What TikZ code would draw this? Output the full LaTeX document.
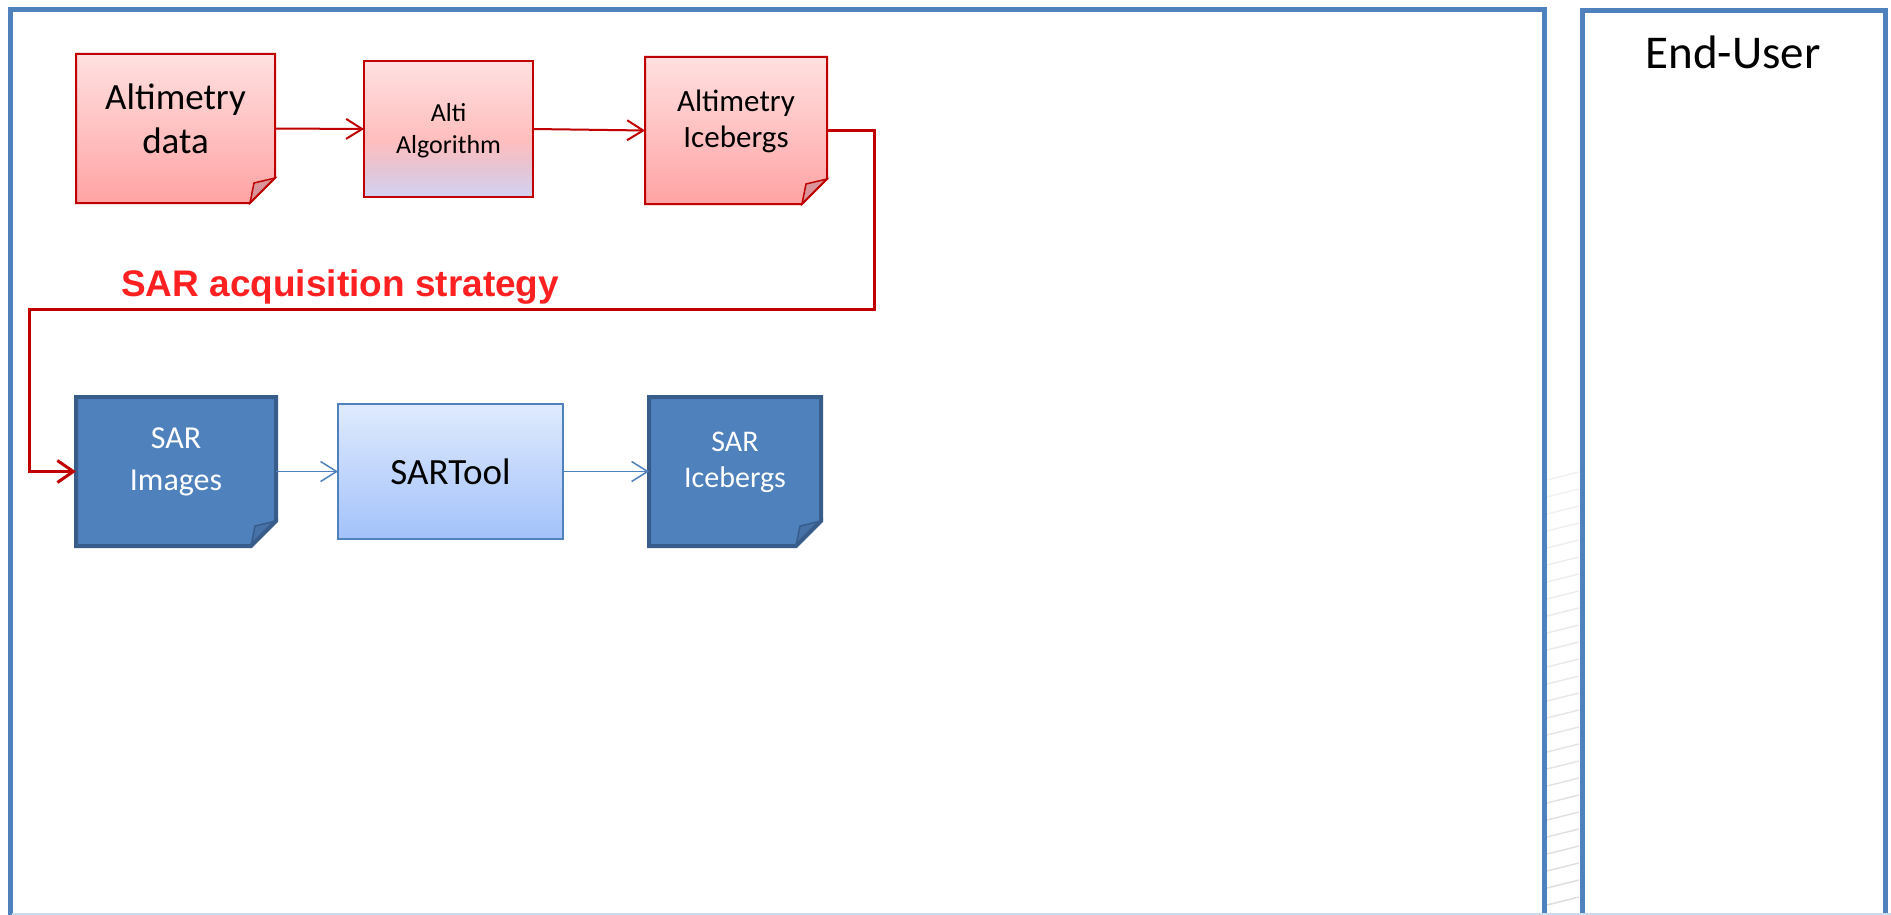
\documentclass[tikz,border=0pt]{standalone}
\usepackage{fontspec}
\setmainfont{Carlito}
\newfontfamily\labelfont{Liberation Sans}
\usetikzlibrary{arrows.meta,calc,backgrounds}

\definecolor{panelblue}{HTML}{4F81BD}
\definecolor{darkred}{HTML}{C00000}
\definecolor{labelred}{HTML}{FF2121}
\definecolor{pinktop}{HTML}{FFE0E0}
\definecolor{pinkbot}{HTML}{FFA3A4}
\definecolor{pinkmid}{HTML}{FFBEBE}
\definecolor{pinkfold}{HTML}{D9959A}
\definecolor{mauve}{HTML}{E6C4D3}
\definecolor{lavender}{HTML}{D2D3F2}
\definecolor{sarblue}{HTML}{4F81BD}
\definecolor{sarborder}{HTML}{385D8A}
\definecolor{sarfold}{HTML}{4672A8}
\definecolor{tooltop}{HTML}{DFEAFD}
\definecolor{toolbot}{HTML}{A3C2FA}
\definecolor{edgeline}{HTML}{CADCF0}

% algorithm box: pink on top fading to lavender at the bottom
\pgfdeclareverticalshading{algoshade}{100bp}{color(0bp)=(lavender); color(25bp)=(lavender); color(36bp)=(mauve); color(46bp)=(pinkmid); color(75bp)=(pinktop); color(100bp)=(pinktop)}

% page with a folded bottom-right corner, drawn behind the node #1
\newcommand{\foldedpage}[4]{%
  \shade[#2] (#1.north west) -- (#1.north east) -- ($(#1.south east)+(0,-25)$)
    -- ($(#1.south east)+(-25,0)$) -- (#1.south west) -- cycle;
  \filldraw[#3, fill=#4, line width=1.5pt] ($(#1.south east)+(0,-25)$)
    -- ($(#1.south east)+(-25,0)$) -- ($(#1.south east)+(-21,-20)$) -- cycle;
  \draw[#3] (#1.north west) -- (#1.north east) -- ($(#1.south east)+(0,-25)$)
    -- ($(#1.south east)+(-25,0)$) -- (#1.south west) -- cycle;
}

\tikzset{
  panel/.style={draw=panelblue, line width=5pt, inner sep=0, outer sep=0, anchor=north west},
  shapebox/.style={inner sep=0, outer sep=0},
  boxtext/.style={align=center, inner sep=0},
  redarrow/.style={draw=darkred, line width=2pt, -{Straight Barb[length=16pt,width=20pt]}},
  bluearrow/.style={draw=panelblue, line width=1.5pt, -{Straight Barb[length=16pt,width=20pt]}},
  route/.style={draw=darkred, line width=3pt, line join=miter, -{Straight Barb[length=16pt,width=22pt]}},
}

\begin{document}
\begin{tikzpicture}[x=1pt,y=-1pt]
\useasboundingbox (0,0) rectangle (1891,915);

\begin{scope}
\clip (0,0) rectangle (1891,915);

% faint strokes showing through the gap between the panels
\foreach \i in {0,...,25} {
  \pgfmathsetmacro{\yy}{480+17*\i}
  \pgfmathsetmacro{\gg}{5+0.35*\i}
  \draw[black!\gg, line width=1.4pt] (1547,\yy) -- (1579,\yy-8);
}

% the two swim-lane panels
\node[panel, minimum width=1534, minimum height=930] (procpanel) at (10,10) {};
\node[panel, minimum width=303, minimum height=930] (userpanel) at (1582,11) {};
\node[font=\fontsize{47}{56}\selectfont, inner sep=0] (usertitle) at (1733,52) {End-User};
\draw[edgeline, line width=1.5pt] (12,914) -- (1891,914);

% altimetry row
\node[shapebox, minimum width=199, minimum height=149] (altdata) at (175.5,128.5) {};
\node[shapebox, minimum width=169, minimum height=136] (altalgo) at (448.5,129) {};
\node[shapebox, minimum width=182, minimum height=147] (altice) at (736,130.5) {};

% SAR row
\node[shapebox, minimum width=200, minimum height=149] (sarimg) at (176,471.5) {};
\node[shapebox, minimum width=225, minimum height=135] (sartool) at (450.5,471.5) {};
\node[shapebox, minimum width=172, minimum height=149] (sarice) at (735,471.5) {};

\begin{scope}[on background layer]
  \fill[white] (0,0) rectangle (1891,915);
  \foldedpage{altdata}{top color=pinktop, bottom color=pinkbot}{draw=darkred, line width=2pt}{pinkfold}
  \shade[shading=algoshade] (altalgo.north west) rectangle (altalgo.south east);
  \draw[darkred, line width=2pt] (altalgo.north west) rectangle (altalgo.south east);
  \foldedpage{altice}{top color=pinktop, bottom color=pinkbot}{draw=darkred, line width=2pt}{pinkfold}

  \foldedpage{sarimg}{top color=sarblue, bottom color=sarblue}{draw=sarborder, line width=4pt}{sarfold}
  \shade[top color=tooltop, bottom color=toolbot] (sartool.north west) rectangle (sartool.south east);
  \draw[panelblue, line width=2pt] (sartool.north west) rectangle (sartool.south east);
  \foldedpage{sarice}{top color=sarblue, bottom color=sarblue}{draw=sarborder, line width=4pt}{sarfold}
\end{scope}

% box captions
\node[boxtext, font=\fontsize{37}{44}\selectfont] (altdatatxt) at (175.5,119) {Altimetry\\data};
\node[boxtext, font=\fontsize{26}{32}\selectfont] (altalgotxt) at (448.5,131) {Alti\\Algorithm};
\node[boxtext, font=\fontsize{31}{36}\selectfont] (alticetxt) at (736,121) {Altimetry\\Icebergs};
\node[boxtext, font=\fontsize{32}{42}\selectfont, text=white] (sarimgtxt) at (176,462) {SAR\\Images};
\node[boxtext, font=\fontsize{37}{44}\selectfont] (sartooltxt) at (450.5,472) {SARTool};
\node[boxtext, font=\fontsize{30}{36}\selectfont, text=white] (saricetxt) at (735,462) {SAR\\Icebergs};

% acquisition feedback loop
\node[font=\labelfont\bfseries\fontsize{37}{44}\selectfont, text=labelred, anchor=base west, inner sep=0] (strategy) at (121,296) {SAR acquisition strategy};
\coordinate (loopright) at (874,309);
\coordinate (loopleft) at (29,309);

% connectors
\draw[redarrow] (altdata.east) -- (altalgo.west);
\draw[redarrow] (altalgo.east) -- (altice.west);
\draw[route] (altice.east) -| (loopright) -- (loopleft) |- (sarimg.west);
\draw[bluearrow] (sarimg.east) -- (sartool.west);
\draw[bluearrow] (sartool.east) -- (sarice.west);
\end{scope}
\end{tikzpicture}
\end{document}
